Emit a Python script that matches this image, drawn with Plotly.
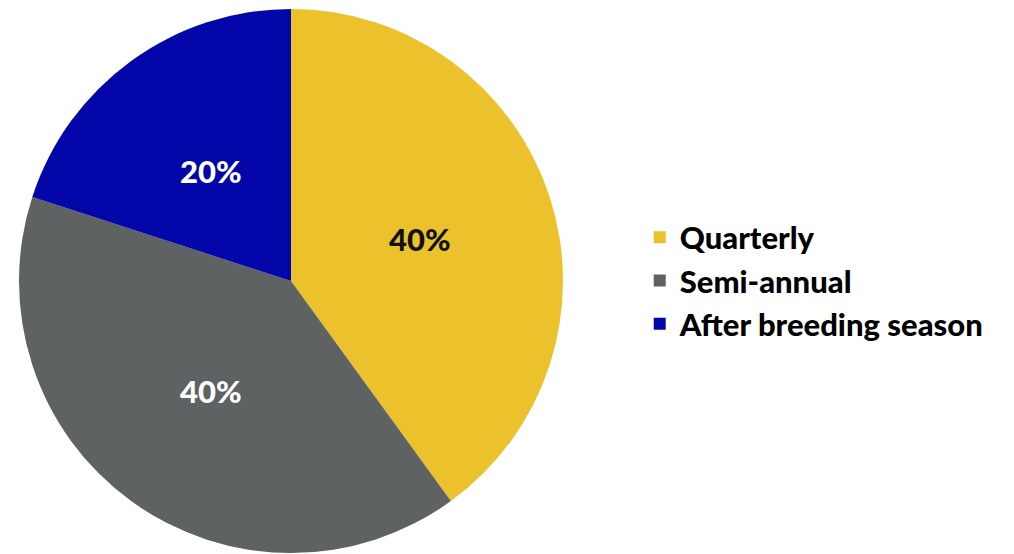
import math
import plotly.graph_objects as go

categories = ["Quarterly", "Semi-annual", "After breeding season"]
values = [40, 40, 20]
colors = ["#EBC22B", "#5E6263", "#0306A8"]
text_colors = ["#111111", "#FFFFFF", "#FFFFFF"]

W, H = 1014, 554
off = 8  # page body margin shifts the plot by this many px
cx, cy, r = 291 - off, 281 - off, 272

fig = go.Figure(go.Pie(
    labels=categories,
    values=values,
    sort=False,
    direction="clockwise",
    rotation=0,
    marker=dict(colors=colors, line=dict(width=0)),
    textinfo="none",
    domain=dict(x=[(cx - r) / W, (cx + r) / W],
                y=[1 - (cy + r) / H, 1 - (cy - r) / H]),
    hoverinfo="label+percent",
))

# percentage labels at half radius along each slice bisector (computed from values)
total = sum(values)
start = 90.0
for v, tc in zip(values, text_colors):
    sweep = 360.0 * v / total
    mid = math.radians(start - sweep / 2)
    start -= sweep
    px = cx + 0.5 * r * math.cos(mid)
    py = cy - 0.5 * r * math.sin(mid)
    fig.add_annotation(
        x=px / W, y=1 - py / H, xref="paper", yref="paper",
        text=f"{round(100 * v / total)}%", showarrow=False,
        font=dict(family="Lato", size=31, color=tc, weight=900),
        xanchor="center", yanchor="middle",
    )

fig.update_layout(
    width=W, height=H,
    margin=dict(l=0, r=0, t=0, b=0),
    paper_bgcolor="white",
    plot_bgcolor="white",
    showlegend=True,
    legend=dict(
        x=0.623, y=0.508, xanchor="left", yanchor="middle",
        font=dict(family="Lato", size=31, color="#000000", weight=900),
        tracegroupgap=0, itemwidth=30,
        bgcolor="rgba(0,0,0,0)",
    ),
)

fig.write_html("out.html")
